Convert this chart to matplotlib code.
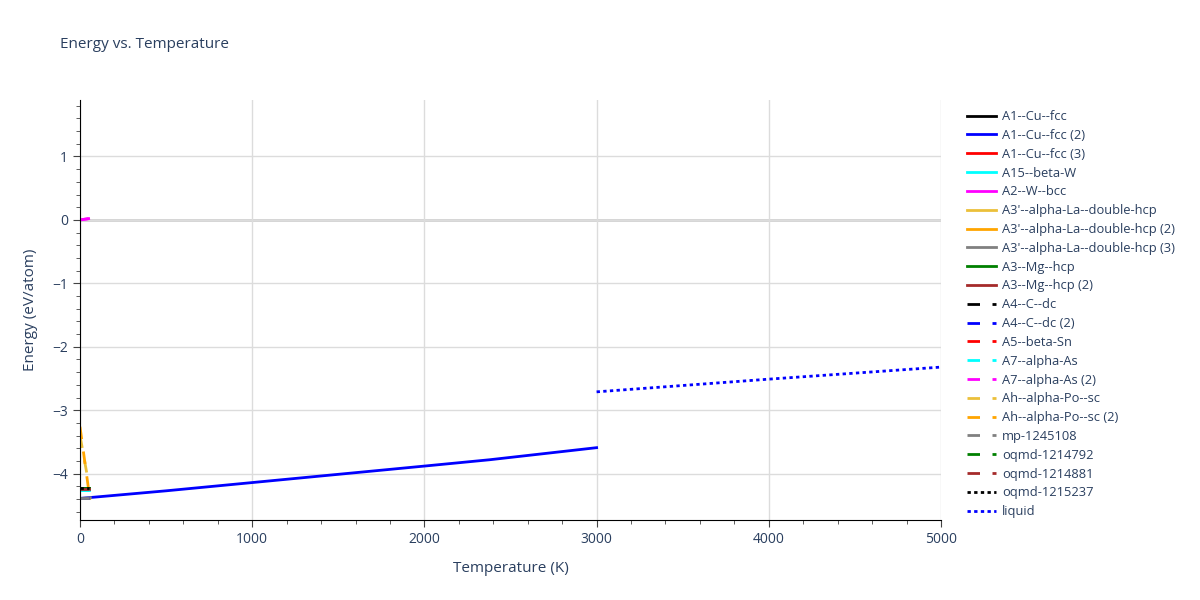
import matplotlib
matplotlib.use("Agg")
import matplotlib.pyplot as plt
from matplotlib.ticker import MultipleLocator

plt.rcParams["font.family"] = ["Open Sans", "DejaVu Sans"]

# series names, in legend order
names = ["A1--Cu--fcc", "A1--Cu--fcc (2)", "A1--Cu--fcc (3)", "A15--beta-W",
         "A2--W--bcc", "A3'--alpha-La--double-hcp", "A3'--alpha-La--double-hcp (2)",
         "A3'--alpha-La--double-hcp (3)", "A3--Mg--hcp", "A3--Mg--hcp (2)",
         "A4--C--dc", "A4--C--dc (2)", "A5--beta-Sn", "A7--alpha-As", "A7--alpha-As (2)",
         "Ah--alpha-Po--sc", "Ah--alpha-Po--sc (2)", "mp-1245108", "oqmd-1214792",
         "oqmd-1214881", "oqmd-1215237", "liquid"]
colors = ["black", "blue", "red", "cyan", "magenta", "#EBC03A", "orange", "gray",
          "green", "brown", "black", "blue", "red", "cyan", "magenta", "#EBC03A",
          "orange", "gray", "green", "brown", "black", "blue"]
styles = ["solid"] * 10 + ["dash"] * 10 + ["dot", "dot"]
dash_map = {"solid": (None, None), "dash": (4.5, 4.5), "dot": (1.2, 1.2)}

# temperatures (K) and energies (eV/atom)
temps = [
    [0, 50], [0, 500, 1000, 1500, 2000, 2380, 3000], [0, 50], [0, 50],
    [0, 50], [0, 50], [0, 50], [0, 60],
    [0, 50], [0, 50],
    [0, 50], [0, 50], [0, 50], [0, 50], [0, 50],
    [0, 40], [0, 48], [0, 50], [0, 50], [0, 50], [0, 50],
    [3000, 4000, 5000],
]
energies = [
    [-4.23, -4.23], [-4.39, -4.27, -4.14, -4.01, -3.88, -3.78, -3.59], [-4.24, -4.24], [-4.25, -4.25],
    [0.0, 0.02], [-4.39, -4.39], [-4.39, -4.39], [-4.39, -4.38],
    [-4.22, -4.22], [-4.24, -4.24],
    [-4.23, -4.23], [-4.39, -4.39], [-4.24, -4.24], [-4.25, -4.25], [0.0, 0.02],
    [-3.4, -4.0], [-3.26, -4.21], [-4.39, -4.39], [-4.22, -4.22], [-4.24, -4.24], [-4.23, -4.23],
    [-2.71, -2.51, -2.32],
]

txt = "#2a3f5f"
fig = plt.figure(figsize=(12, 6), dpi=100)
ax = fig.add_axes([80 / 1200, 80 / 600, 861 / 1200, 420 / 600])

for n, c, s, t, e in zip(names, colors, styles, temps, energies):
    line, = ax.plot(t, e, color=c, linewidth=2, label=n)
    if s != "solid":
        line.set_dashes(dash_map[s])

ax.axhline(0, color="#d0d0d0", linewidth=2, zorder=0)
ax.set_xlim(0, 5000)
ax.set_ylim(-4.73, 1.89)
ax.xaxis.set_major_locator(MultipleLocator(1000))
ax.xaxis.set_minor_locator(MultipleLocator(200))
ax.yaxis.set_major_locator(MultipleLocator(1))
ax.yaxis.set_minor_locator(MultipleLocator(0.2))
ax.grid(True, which="major", color="#dcdcdc", linewidth=1)
ax.set_axisbelow(True)
for sp in ["top", "right"]:
    ax.spines[sp].set_visible(False)
ax.tick_params(which="major", length=5, color="#444444", labelcolor=txt, labelsize=10)
ax.tick_params(which="minor", length=3, color="#444444")
ax.set_xlabel("Temperature (K)", color=txt, fontsize=11, labelpad=10)
ax.set_ylabel("Energy (eV/atom)", color=txt, fontsize=11, labelpad=10)

fig.text(60 / 1200, 1 - 45 / 600, "Energy vs. Temperature", color=txt, fontsize=11, va="center")

fig.legend(loc="upper left", bbox_to_anchor=(962 / 1200, 1 - 105 / 600), frameon=False,
           fontsize=9.3, labelcolor=txt, handlelength=2.25, labelspacing=0.45,
           borderaxespad=0, handletextpad=0.45)

fig.savefig("out.png", dpi=100)
